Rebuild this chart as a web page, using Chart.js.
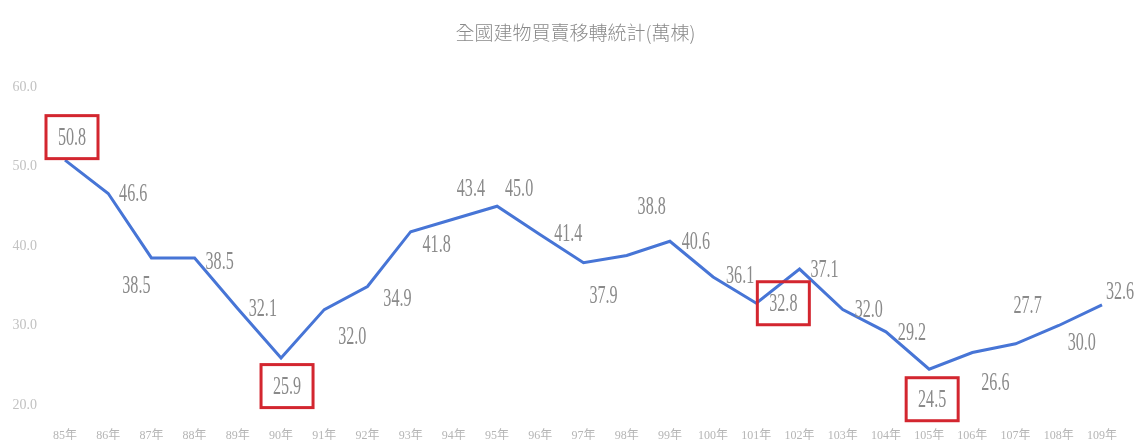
<!DOCTYPE html>
<html>
<head>
<meta charset="utf-8">
<script src="https://cdn.jsdelivr.net/npm/chart.js@4"></script>
<style>
  html, body { margin: 0; padding: 0; background: #fff; }
  #wrap { width: 1143px; height: 448px; }
</style>
</head>
<body>
<div id="wrap"><canvas id="chart" width="1143" height="448"></canvas></div>
<script>
const chartTitle = '全國建物買賣移轉統計(萬棟)';
const years = ['85年','86年','87年','88年','89年','90年','91年','92年','93年','94年','95年','96年','97年',
  '98年','99年','100年','101年','102年','103年','104年','105年','106年','107年','108年','109年'];
const transfers = [50.8, 46.6, 38.5, 38.5, 32.1, 25.9, 32.0, 34.9, 41.8, 43.4, 45.0, 41.4, 37.9,
  38.8, 40.6, 36.1, 32.8, 37.1, 32.0, 29.2, 24.5, 26.6, 27.7, 30.0, 32.6];
const highlighted = [0, 5, 16, 20];
const yTicks = [20, 30, 40, 50, 60];

// where each value label sits relative to its point (px)
const labelOffsets = [
  [7, -23], [25, 0], [-15, 27], [25, 3], [25, -1], [6, 28], [28, 27], [30, 12], [26, 12], [17, -31],
  [22, -18], [28, -2], [20, 32], [25, -49], [26, 0], [27, -2], [27, 0], [25, 0], [26, 0], [26, 0],
  [3, 30], [23, 30], [12, -39], [23, 17], [18, -14]
];

// title drawn by hand so it centres on the whole page, not the padded box
const pageTitle = {
  id: 'pageTitle',
  afterDraw(chart) {
    const ctx = chart.ctx;
    ctx.save();
    ctx.font = '300 19px "Noto Sans CJK TC"';
    ctx.fillStyle = '#8a8a8a';
    ctx.textAlign = 'center';
    ctx.textBaseline = 'middle';
    ctx.fillText(chartTitle, chart.width / 2 + 4, 33);
    ctx.restore();
  }
};

const valueLabels = {
  id: 'valueLabels',
  afterDatasetsDraw(chart) {
    const ctx = chart.ctx;
    const meta = chart.getDatasetMeta(0);
    meta.data.forEach((pt, i) => {
      const x = pt.x + labelOffsets[i][0];
      const y = pt.y + labelOffsets[i][1];
      ctx.save();
      ctx.translate(x, y);
      ctx.scale(0.62, 1);
      ctx.font = '26px "Liberation Serif"';
      ctx.fillStyle = '#8a8a8a';
      ctx.textAlign = 'center';
      ctx.textBaseline = 'middle';
      ctx.fillText(transfers[i].toFixed(1), 0, 1);
      ctx.restore();
      if (highlighted.includes(i)) {
        ctx.save();
        ctx.strokeStyle = '#d3262f';
        ctx.lineWidth = 3;
        ctx.strokeRect(x - 26, y - 21.5, 52, 43);
        ctx.restore();
      }
    });
  }
};

new Chart(document.getElementById('chart'), {
  type: 'line',
  data: {
    labels: years,
    datasets: [{
      data: transfers,
      borderColor: '#4775d6',
      borderWidth: 3,
      pointRadius: 0,
      tension: 0,
      fill: false
    }]
  },
  options: {
    responsive: false,
    devicePixelRatio: 1,
    animation: false,
    layout: { padding: { top: 87, left: 0, right: 41, bottom: 0 } },
    plugins: {
      legend: { display: false },
      tooltip: { enabled: false },
      title: { display: false }
    },
    scales: {
      x: {
        offset: false,
        afterFit: (s) => { s.height = 43; },
        grid: { display: false, drawTicks: false },
        border: { display: false },
        ticks: {
          color: '#b5b5b5',
          font: { family: '"Liberation Serif", "Noto Sans CJK TC"', size: 12 },
          padding: 24,
          autoSkip: false,
          maxRotation: 0
        }
      },
      y: {
        min: 20,
        max: 60,
        afterFit: (s) => { s.width = 65; },
        afterBuildTicks: (s) => { s.ticks = yTicks.map(v => ({ value: v })); },
        grid: { display: false, drawTicks: false },
        border: { display: false },
        ticks: {
          color: '#c2c2c2',
          font: { family: '"Liberation Serif"', size: 14 },
          padding: 28,
          callback: (v) => v.toFixed(1)
        }
      }
    }
  },
  plugins: [valueLabels, pageTitle]
});
</script>
</body>
</html>
